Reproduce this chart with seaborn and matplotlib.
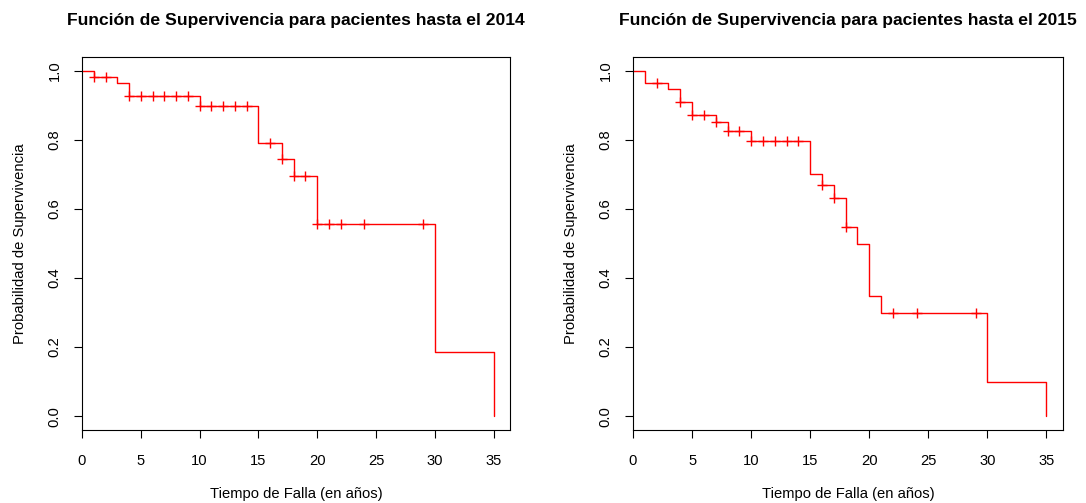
import numpy as np
import pandas as pd
import matplotlib
matplotlib.use("Agg")
import matplotlib.pyplot as plt
import seaborn as sns

# Kaplan-Meier step values (event times and survival after each step)
times_2014 = [0, 1, 3, 4, 10, 15, 17, 18, 20, 30, 35]
surv_2014 = [1.0, 0.983, 0.964, 0.928, 0.897, 0.791, 0.745, 0.696, 0.556, 0.185, 0.0]
censor_2014 = [1, 2, 4, 5, 6, 7, 8, 9, 10, 11, 12, 13, 14, 16, 17, 18, 19,
               20, 21, 22, 24, 29]

times_2015 = [0, 1, 3, 4, 5, 7, 8, 10, 15, 16, 17, 18, 19, 20, 21, 30, 35]
surv_2015 = [1.0, 0.966, 0.948, 0.911, 0.872, 0.851, 0.826, 0.798, 0.701,
             0.670, 0.633, 0.548, 0.498, 0.348, 0.298, 0.099, 0.0]
censor_2015 = [2, 4, 5, 6, 7, 8, 9, 10, 11, 12, 13, 14, 16, 17, 18, 22, 24, 29]

titles = ["Función de Supervivencia para pacientes hasta el 2014",
          "Función de Supervivencia para pacientes hasta el 2015"]
x_label = "Tiempo de Falla (en años)"
y_label = "Probabilidad de Supervivencia"
x_ticks = [0, 5, 10, 15, 20, 25, 30, 35]
y_ticks = [0.0, 0.2, 0.4, 0.6, 0.8, 1.0]

sns.set_theme(style="white")
plt.rcParams["font.family"] = ["Liberation Sans", "DejaVu Sans"]
plt.rcParams["text.color"] = "black"
plt.rcParams["axes.labelcolor"] = "black"
plt.rcParams["xtick.color"] = "black"
plt.rcParams["ytick.color"] = "black"

fig = plt.figure(figsize=(10.86, 5.03), dpi=100)
W, H = 1086, 503
ax_left = fig.add_axes([82 / W, (H - 430) / H, 428 / W, 373 / H])
ax_right = fig.add_axes([633 / W, (H - 430) / H, 430 / W, 373 / H])

LABEL_SIZE = 10.6


def surv_at(t, times, surv):
    idx = np.searchsorted(times, t, side="right") - 1
    return np.asarray(surv)[idx]


def km_panel(ax, times, surv, censor, title):
    curve = pd.DataFrame({"t": times, "s": surv})
    sns.lineplot(data=curve, x="t", y="s", ax=ax, color="red",
                 drawstyle="steps-post", sort=False, estimator=None,
                 linewidth=1.0)
    marks = pd.DataFrame({"t": censor,
                          "s": surv_at(censor, times, surv)})
    sns.scatterplot(data=marks, x="t", y="s", ax=ax, color="red",
                    marker="+", s=42, linewidth=1.0, zorder=3)
    ax.set_xlim(0, 36.4)
    ax.set_ylim(-0.04, 1.04)
    ax.set_xticks(x_ticks)
    ax.set_xticklabels([str(v) for v in x_ticks], fontsize=LABEL_SIZE)
    ax.set_yticks(y_ticks)
    ax.set_yticklabels([f"{v:.1f}" for v in y_ticks], fontsize=LABEL_SIZE,
                       rotation=90, va="center")
    ax.tick_params(axis="both", direction="out", length=6, width=0.8,
                   color="black", bottom=True, left=True)
    ax.tick_params(axis="x", pad=11)
    ax.tick_params(axis="y", pad=8.5)
    for sp in ax.spines.values():
        sp.set_color("black")
        sp.set_linewidth(0.8)
    ax.set_xlabel(x_label, fontsize=LABEL_SIZE, labelpad=14)
    ax.set_ylabel(y_label, fontsize=LABEL_SIZE, labelpad=15)
    ax.set_title(title, fontsize=12.6, fontweight="bold", pad=23)


km_panel(ax_left, times_2014, surv_2014, censor_2014, titles[0])
km_panel(ax_right, times_2015, surv_2015, censor_2015, titles[1])

fig.savefig("out.png", dpi=100, facecolor="white")
